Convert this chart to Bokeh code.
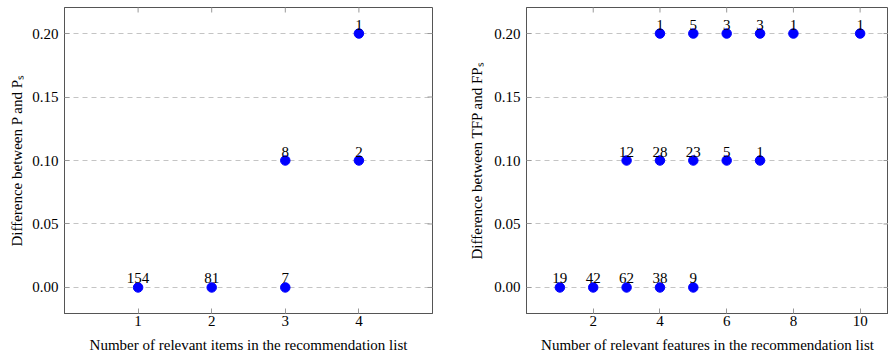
import math
from bokeh.plotting import figure
from bokeh.models import Range1d, FixedTicker, PrintfTickFormatter, ColumnDataSource
from bokeh.layouts import row
from bokeh.core.properties import value
from bokeh.embed import file_html
from bokeh.resources import INLINE

# Left chart data
items_x = [1, 2, 3, 3, 4, 4]
items_diff = [0.0, 0.0, 0.0, 0.1, 0.1, 0.2]
items_count = ["154", "81", "7", "8", "2", "1"]

# Right chart data
feat_x = [1, 2, 3, 4, 5, 3, 4, 5, 6, 7, 4, 5, 6, 7, 8, 10]
feat_diff = [0.0, 0.0, 0.0, 0.0, 0.0, 0.1, 0.1, 0.1, 0.1, 0.1, 0.2, 0.2, 0.2, 0.2, 0.2, 0.2]
feat_count = ["19", "42", "62", "38", "9", "12", "28", "23", "5", "1", "1", "5", "3", "3", "1", "1"]

y_ticks = [0.0, 0.05, 0.10, 0.15, 0.20]
items_ticks = [1, 2, 3, 4]
feat_ticks = [2, 4, 6, 8, 10]

FONT = "'Liberation Serif', 'Times New Roman', serif"
FS = "15px"
AX = "#555555"
TICK = "#999999"


def make(xs, ys, labels, xticks, xrange, xlabel, ylabel, width, bl, br, ylab_standoff):
    yr = Range1d(-0.0205, 0.2205)
    xr = Range1d(*xrange)
    p = figure(width=width, height=359, output_backend="svg", toolbar_location=None,
               x_range=xr, y_range=yr,
               min_border_left=bl, min_border_right=br, min_border_top=7, min_border_bottom=46)
    p.outline_line_color = AX
    p.outline_line_width = 1
    p.background_fill_color = "white"
    p.border_fill_color = "white"
    p.xgrid.visible = False
    p.ygrid.grid_line_color = "#c4c4c4"
    p.ygrid.grid_line_dash = "5 4"
    p.ygrid.ticker = FixedTicker(ticks=y_ticks)

    p.xaxis.ticker = FixedTicker(ticks=xticks)
    p.yaxis.ticker = FixedTicker(ticks=y_ticks)
    p.yaxis.formatter = PrintfTickFormatter(format="%.2f")
    for ax in (p.xaxis[0], p.yaxis[0]):
        ax.axis_line_color = AX
        ax.major_tick_line_color = TICK
        ax.major_tick_in = 5
        ax.major_tick_out = 0
        ax.minor_tick_line_color = None
        ax.major_label_text_font = FONT
        ax.major_label_text_font_size = FS
        ax.major_label_text_color = "black"
        ax.axis_label_text_font = FONT
        ax.axis_label_text_font_size = FS
        ax.axis_label_text_font_style = "normal"
        ax.axis_label_text_color = "black"
    p.xaxis.axis_label = xlabel
    p.yaxis.axis_label = ylabel
    p.xaxis.major_label_standoff = 2
    p.xaxis.axis_label_standoff = 8
    p.yaxis.major_label_standoff = 6
    p.yaxis.axis_label_standoff = ylab_standoff

    # inward ticks on the top and right frame edges (half of each dash is clipped by the frame)
    p.scatter(x=xticks, y=[yr.end] * len(xticks), marker="dash", angle=math.pi / 2,
              size=10, line_color=TICK, line_width=1)
    p.scatter(x=[xr.end] * len(y_ticks), y=y_ticks, marker="dash",
              size=10, line_color=TICK, line_width=1)

    src = ColumnDataSource(dict(x=xs, y=ys, t=labels))
    p.scatter("x", "y", source=src, size=9.5, color="#0000ff", line_color="#0000ff")
    p.text("x", "y", text="t", source=src, text_align="center", text_baseline="bottom",
           y_offset=-4, text_font=value(FONT), text_font_size=FS, text_color="black")
    return p


p1 = make(items_x, items_diff, items_count, items_ticks, (0, 5),
          "Number of relevant items in the recommendation list",
          "Difference between P and P\u209b", 440, 64, 8, 4)
p2 = make(feat_x, feat_diff, feat_count, feat_ticks, (0, 10.85),
          "Number of relevant features in the recommendation list",
          "Difference between TFP and FP\u209b", 448, 86, 0, 6)

layout = row(p1, p2, spacing=0)
open("out.html", "w").write(file_html(layout, INLINE))
